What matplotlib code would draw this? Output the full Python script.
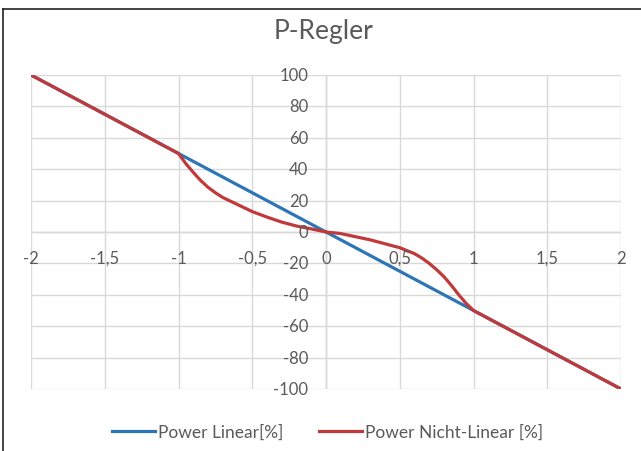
import matplotlib.pyplot as plt
from matplotlib.lines import Line2D

# data
x_linear = [-2, -1.5, -1, -0.5, 0, 0.5, 1, 1.5, 2]
power_linear = [100, 75, 50, 25, 0, -25, -50, -75, -100]

x_nonlinear = [-2, -1.5, -1, -0.95, -0.9, -0.85, -0.8, -0.75, -0.7, -0.6, -0.5, -0.4, -0.3, -0.2,
               -0.1, 0, 0.1, 0.2, 0.3, 0.4, 0.5, 0.6, 0.65, 0.7, 0.75, 0.8, 0.85, 0.9, 0.95,
               1, 1.5, 2]
power_nonlinear = [100, 75, 50, 43.5, 38, 32.8, 28.5, 25, 22, 17.5, 13, 9.5, 6.3, 3.8,
                   2, 0, -1, -3, -5, -7.5, -10, -13.8, -16.6, -20, -24, -28.5, -34, -40, -45.5,
                   -50, -75, -100]

x_ticks = [-2, -1.5, -1, -0.5, 0, 0.5, 1, 1.5, 2]
x_ticklabels = ['-2', '-1,5', '-1', '-0,5', '0', '0,5', '1', '1,5', '2']
y_ticks = [-100, -80, -60, -40, -20, 0, 20, 40, 60, 80, 100]

plt.rcParams['font.family'] = ['Lato', 'DejaVu Sans']
text_col = '#5a5a5a'
blue = '#2E75B6'
red = '#C0393B'

fig = plt.figure(figsize=(6.41, 4.52), dpi=100)
ax = fig.add_axes([31 / 641, 62 / 452, 590 / 641, 314 / 452])

ax.plot(x_linear, power_linear, color=blue, lw=2.3, solid_capstyle='round')
ax.plot(x_nonlinear, power_nonlinear, color=red, lw=2.3, solid_capstyle='round',
        solid_joinstyle='round')

ax.set_xlim(-2, 2)
ax.set_ylim(-100, 100)
ax.set_xticks(x_ticks)
ax.set_yticks(y_ticks)
ax.grid(True, color='#D9D9D9', lw=1)
ax.set_axisbelow(True)
for s in ['top', 'right', 'left', 'bottom']:
    ax.spines[s].set_visible(False)
ax.axhline(0, color='#D0D0D0', lw=1, zorder=0.5)
ax.axvline(0, color='#D0D0D0', lw=1, zorder=0.5)
ax.tick_params(length=0)
ax.set_xticklabels([])
ax.set_yticklabels([])

# tick labels sit next to the axes crossing at zero (Excel style)
for xv, lab in zip(x_ticks, x_ticklabels):
    ax.text(xv, -16.5, lab, ha='center', va='center', fontsize=12, color=text_col)
for yv in y_ticks:
    ax.text(-0.12, yv, str(yv), ha='right', va='center', fontsize=12, color=text_col)

fig.text(0.505, 1 - 31 / 452, 'P-Regler', ha='center', va='center', fontsize=19, color=text_col)

handles = [Line2D([0], [0], color=blue, lw=2.3), Line2D([0], [0], color=red, lw=2.3)]
fig.legend(handles, ['Power Linear[%]', 'Power Nicht-Linear [%]'], loc='center',
           bbox_to_anchor=(0.511, 1 - 433 / 452), ncol=2, frameon=False, fontsize=12.5,
           labelcolor=text_col, handlelength=2.5, handletextpad=0.2, columnspacing=2.0)

# chart border (left and top visible)
fig.add_artist(Line2D([3 / 641, 3 / 641], [0, 1 - 10 / 452], color='#222222', lw=1.2))
fig.add_artist(Line2D([3 / 641, 1], [1 - 10 / 452, 1 - 10 / 452], color='#222222', lw=1.2))

fig.savefig('out.png', dpi=100)
